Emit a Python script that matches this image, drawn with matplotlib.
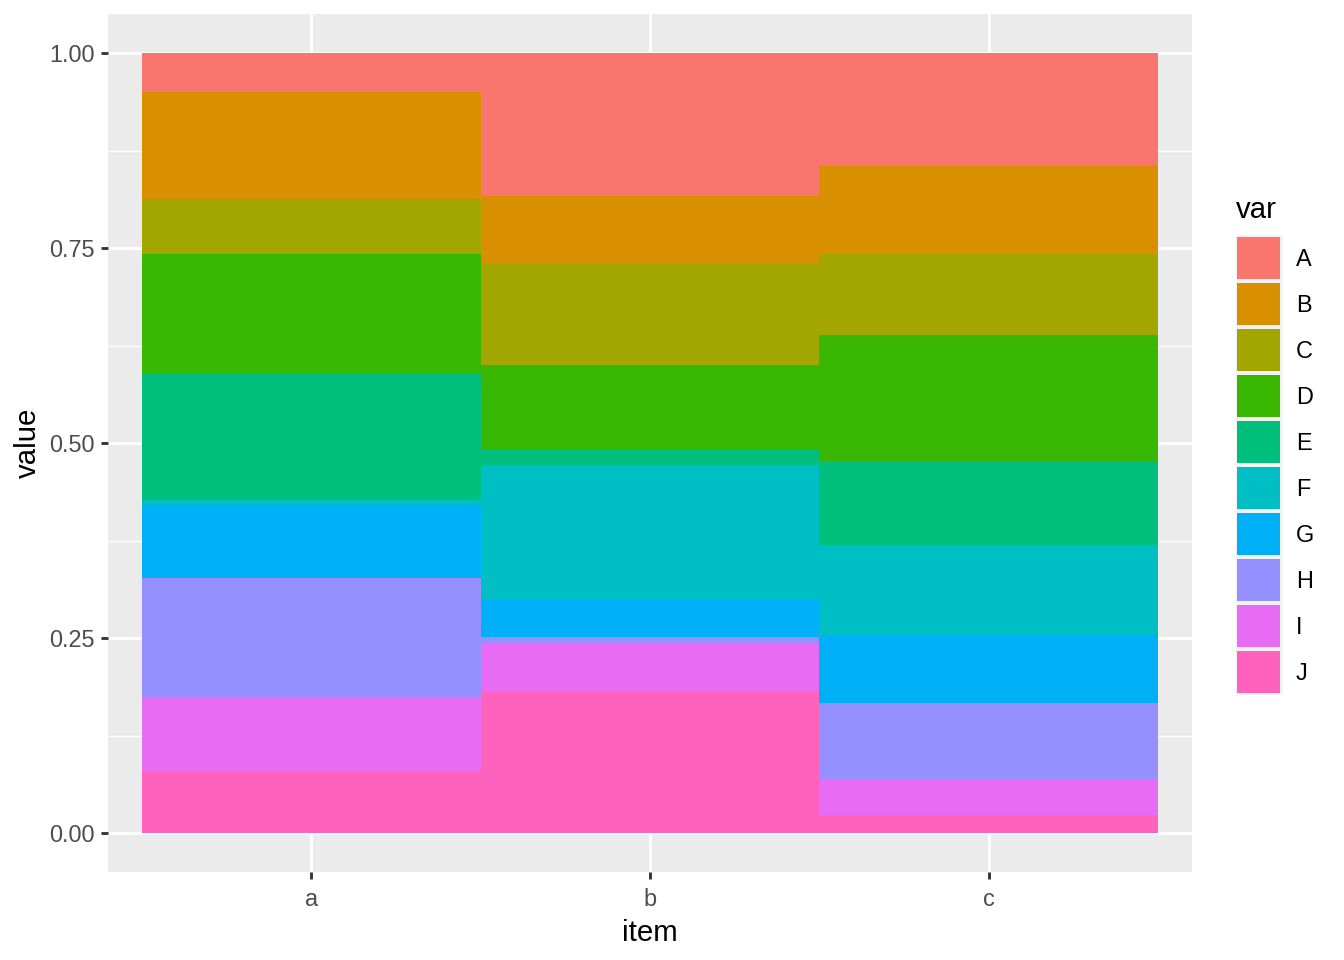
import matplotlib
matplotlib.use("Agg")
import matplotlib.pyplot as plt
from matplotlib.patches import Rectangle
import numpy as np

items = ["a", "b", "c"]
vars_ = ["A", "B", "C", "D", "E", "F", "G", "H", "I", "J"]
colors = ["#F8766D", "#D89000", "#A3A500", "#39B600", "#00BF7D",
          "#00BFC4", "#00B0F6", "#9590FF", "#E76BF3", "#FF62BC"]

val_a = [0.0503, 0.1370, 0.0704, 0.1524, 0.1626, 0.0073, 0.0926, 0.1533, 0.0964, 0.0777]
val_b = [0.1831, 0.0871, 0.1297, 0.1088, 0.0201, 0.1720, 0.0473, 0.0081, 0.0620, 0.1818]
val_c = [0.1451, 0.1126, 0.1038, 0.1617, 0.1071, 0.1157, 0.0879, 0.0964, 0.0470, 0.0227]

plt.rcParams['font.family'] = ['Liberation Sans', 'DejaVu Sans']

data = np.array([val_a, val_b, val_c])  # items x vars
data = data / data.sum(axis=1, keepdims=True)

W, H = 1344, 960
fig = plt.figure(figsize=(7, 5), dpi=192)
ax = fig.add_axes([108/W, 88/H, (1192-108)/W, (872-14)/H])
ax.set_facecolor("#EBEBEB")
for s in ax.spines.values():
    s.set_visible(False)

x = np.arange(1, len(items) + 1)
# stack: J at bottom, A at top
bottom = np.zeros(len(items))
for j in range(len(vars_) - 1, -1, -1):
    ax.bar(x, data[:, j], width=1.0, bottom=bottom, color=colors[j],
           linewidth=0, zorder=3)
    bottom += data[:, j]

ax.set_xlim(0.4, 3.6)
ax.set_ylim(-0.05, 1.05)
yt = [0, 0.25, 0.5, 0.75, 1.0]
ax.set_yticks(yt)
ax.set_yticklabels(["0.00", "0.25", "0.50", "0.75", "1.00"])
ax.set_yticks([0.125, 0.375, 0.625, 0.875], minor=True)
ax.set_xticks(x)
ax.set_xticklabels(items)
ax.grid(True, which="major", color="white", linewidth=1.07, zorder=1)
ax.grid(True, which="minor", axis="y", color="white", linewidth=0.53, zorder=1)
ax.tick_params(axis="both", which="major", length=2.75, width=1.07, color="#333333",
               labelsize=8.8, labelcolor="#4D4D4D", pad=2.2)
ax.tick_params(axis="x", which="major", pad=3.2)
ax.tick_params(axis="both", which="minor", length=0)
ax.set_axisbelow(True)
ax.set_xlabel("item", fontsize=11, color="black", labelpad=3.0)
ax.set_ylabel("value", fontsize=11, color="black", labelpad=2.75)

# Legend drawn manually in a pixel-unit axes
lx0, lx1, ly0, ly1 = 1220, 1344, 180, 710
lax = fig.add_axes([lx0/W, 1 - ly1/H, (lx1-lx0)/W, (ly1-ly0)/H])
lax.set_xlim(lx0, lx1)
lax.set_ylim(ly1, ly0)
lax.axis("off")
lax.text(1236, 218, "var", fontsize=11, color="black", ha="left", va="baseline")
key_top0, pitch = 236.7, 46.0
for i, (lab, c) in enumerate(zip(vars_, colors)):
    top = key_top0 + pitch * i
    lax.add_patch(Rectangle((1235.5, top - 1.8), 47, 46, facecolor="#F2F2F2",
                            edgecolor="none"))
    lax.add_patch(Rectangle((1237, top), 43.3, 42.3, facecolor=c, edgecolor="none"))
    lax.text(1296, top + 23, lab, fontsize=8.8, color="black", ha="left",
             va="center")

fig.savefig("out.png", dpi=192)
